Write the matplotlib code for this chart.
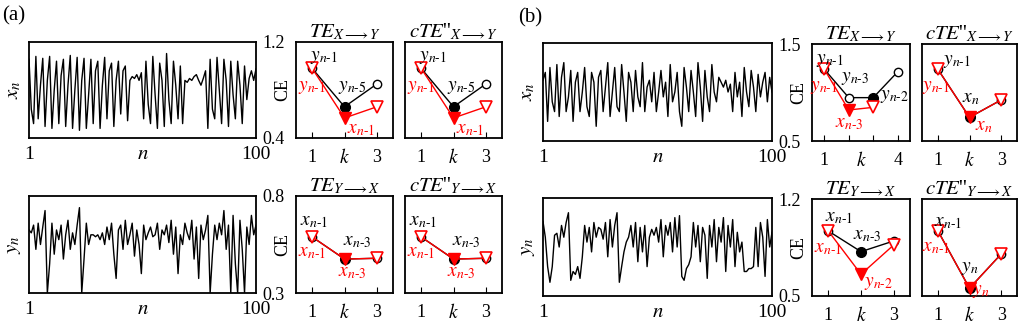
import matplotlib
matplotlib.use("Agg")
import matplotlib.pyplot as plt
import matplotlib.transforms as mtransforms

plt.rcParams['font.family'] = ['Liberation Serif', 'DejaVu Serif']
plt.rcParams['mathtext.fontset'] = 'stix'

# time series (a) and (b), 100 samples each, scaled 0..1 inside the box
n = list(range(1, 101))
xa = [0.82, 0.3, 0.15, 0.85, 0.2, 0.55, 0.83, 0.12, 0.6, 0.85, 0.1, 0.5, 0.8, 0.15, 0.65, 0.82, 0.12, 0.55, 0.86, 0.1,
      0.5, 0.84, 0.08, 0.6, 0.83, 0.1, 0.45, 0.82, 0.15, 0.7, 0.8, 0.1, 0.55, 0.84, 0.2, 0.7, 0.78, 0.12, 0.6, 0.8,
      0.25, 0.7, 0.75, 0.18, 0.6, 0.64, 0.62, 0.66, 0.6, 0.68, 0.2, 0.8, 0.35, 0.15, 0.85, 0.45, 0.1, 0.78, 0.6, 0.12,
      0.88, 0.4, 0.15, 0.8, 0.55, 0.2, 0.75, 0.15, 0.6, 0.58, 0.62, 0.6, 0.64, 0.66, 0.6, 0.55, 0.62, 0.7, 0.1, 0.82,
      0.3, 0.2, 0.84, 0.5, 0.15, 0.82, 0.6, 0.12, 0.8, 0.45, 0.2, 0.8, 0.55, 0.15, 0.75, 0.4, 0.62, 0.7, 0.6, 0.72]
ya = [0.65, 0.62, 0.7, 0.45, 0.72, 0.5, 0.68, 0.85, 0.0, 0.3, 0.72, 0.4, 0.65, 0.55, 0.7, 0.35, 0.6, 0.75, 0.45, 0.62,
      0.5, 0.7, 0.88, 0.0, 0.35, 0.72, 0.5, 0.6, 0.6, 0.58, 0.6, 0.55, 0.62, 0.5, 0.68, 0.55, 0.72, 0.4, 0.15, 0.65,
      0.7, 0.45, 0.75, 0.5, 0.6, 0.72, 0.38, 0.65, 0.5, 0.2, 0.7, 0.55, 0.62, 0.68, 0.58, 0.6, 0.72, 0.45, 0.65, 0.6,
      0.7, 0.52, 0.75, 0.4, 0.68, 0.2, 0.6, 0.5, 0.72, 0.62, 0.55, 0.75, 0.35, 0.68, 0.15, 0.7, 0.55, 0.65, 0.8, 0.0,
      0.4, 0.7, 0.55, 0.72, 0.6, 0.85, 0.45, 0.7, 0.0, 0.8, 0.3, 0.0, 0.75, 0.45, 0.0, 0.68, 0.5, 0.8, 0.6, 0.7]
xb = [0.62, 0.7, 0.2, 0.75, 0.4, 0.3, 0.78, 0.25, 0.65, 0.8, 0.3, 0.45, 0.72, 0.2, 0.6, 0.7, 0.3, 0.5, 0.75, 0.35,
      0.25, 0.7, 0.6, 0.15, 0.65, 0.72, 0.3, 0.55, 0.8, 0.25, 0.5, 0.75, 0.35, 0.3, 0.78, 0.5, 0.2, 0.7, 0.6, 0.3,
      0.72, 0.45, 0.35, 0.8, 0.3, 0.55, 0.62, 0.4, 0.7, 0.3, 0.5, 0.72, 0.45, 0.6, 0.25, 0.78, 0.4, 0.5, 0.7, 0.3,
      0.15, 0.75, 0.55, 0.3, 0.72, 0.5, 0.25, 0.8, 0.55, 0.2, 0.72, 0.45, 0.3, 0.78, 0.5, 0.4, 0.65, 0.6, 0.55, 0.62,
      0.5, 0.58, 0.3, 0.7, 0.45, 0.6, 0.25, 0.75, 0.5, 0.35, 0.72, 0.55, 0.3, 0.68, 0.45, 0.6, 0.7, 0.4, 0.65, 0.5]
yb = [0.76, 0.6, 0.3, 0.14, 0.3, 0.62, 0.64, 0.5, 0.72, 0.6, 0.75, 0.85, 0.16, 0.25, 0.22, 0.3, 0.18, 0.4, 0.72, 0.55,
      0.7, 0.45, 0.75, 0.6, 0.7, 0.68, 0.58, 0.75, 0.4, 0.78, 0.5, 0.72, 0.85, 0.14, 0.3, 0.45, 0.55, 0.6, 0.72, 0.5,
      0.75, 0.35, 0.7, 0.45, 0.72, 0.3, 0.6, 0.68, 0.62, 0.7, 0.55, 0.78, 0.4, 0.72, 0.62, 0.75, 0.45, 0.8, 0.5, 0.82,
      0.2, 0.16, 0.28, 0.32, 0.4, 0.75, 0.5, 0.72, 0.35, 0.7, 0.62, 0.18, 0.72, 0.5, 0.78, 0.35, 0.7, 0.55, 0.8, 0.25,
      0.72, 0.5, 0.78, 0.3, 0.65, 0.45, 0.55, 0.25, 0.25, 0.28, 0.28, 0.3, 0.7, 0.3, 0.75, 0.6, 0.2, 0.78, 0.5, 0.65]

# CE curves: black = TE / cTE'', red = other curve; filled marker at chosen k
a_xy_black = [0.98, 0.66, 0.85]
a_xy_red = [0.98, 0.567, 0.66]
a_yx_black = [0.589, 0.475, 0.479]
a_yx_red = [0.589, 0.475, 0.479]
b_te_xy_black = [1.24, 0.947, 0.947, 1.214]
b_te_xy_red = [1.24, 0.82, 0.847]
b_cte_xy_black = [1.24, 0.744, 0.923]
b_cte_xy_red = [1.24, 0.744, 0.923]
b_te_yx_black = [0.969, 0.82, 0.897]
b_te_yx_red = [0.969, 0.657, 0.868]
b_cte_yx_black = [0.971, 0.556, 0.803]
b_cte_yx_red = [0.971, 0.556, 0.803]

W, H = 1024, 328
fig = plt.figure(figsize=(W / 100, H / 100), dpi=100)


def box(x0, y0, x1, y1):
    return [x0 / W, 1 - y1 / H, (x1 - x0) / W, (y1 - y0) / H]


def series(rect, vals, ylab):
    ax = fig.add_axes(rect)
    ax.plot(n, vals, color='black', lw=1.0)
    ax.set_xlim(1, 100)
    ax.set_ylim(0, 1)
    ax.set_yticks([])
    ax.set_xticks([1, 100])
    ax.set_xticklabels(['1', '100'], fontsize=14)
    ax.tick_params(axis='x', length=0, pad=6)
    ax.text(0.5, -0.07, '$n$', transform=ax.transAxes, ha='center', va='top', fontsize=15)
    ax.set_ylabel(ylab, fontsize=15, labelpad=4)
    for s in ax.spines.values():
        s.set_linewidth(1.3)
    return ax


def ce_panel(rect, title, ylim, black, bfill, red, rfill, labels, show_y):
    ax = fig.add_axes(rect)
    kk = list(range(1, len(black) + 1))
    ax.plot(kk, black, color='black', lw=1.0, zorder=2)
    for i, v in enumerate(black):
        if i == bfill:
            ax.plot(kk[i], v, 'o', color='black', ms=7, zorder=3)
        else:
            ax.plot(kk[i], v, 'o', mfc='white', mec='black', ms=6, mew=1.0, zorder=3)
    kr = list(range(1, len(red) + 1))
    ax.plot(kr, red, color='red', lw=1.0, zorder=4)
    for i, v in enumerate(red):
        if i == rfill:
            ax.plot(kr[i], v, 'v', color='red', ms=8, zorder=5)
        else:
            ax.plot(kr[i], v, 'v', mfc='white', mec='red', ms=8, mew=1.2, zorder=5)
    nk = len(black)
    ax.set_xlim(0.5, nk + 0.5)
    ax.set_ylim(*ylim)
    ax.set_xticks(kk)
    ax.set_xticklabels(['1'] + [''] * (nk - 2) + [str(nk)], fontsize=13)
    ax.tick_params(axis='x', direction='in', length=4, pad=8)
    ax.set_yticks(ylim)
    if show_y:
        ax.set_yticklabels([f'{v:.1f}' for v in ylim], fontsize=13)
        ax.text(-0.14, 0.5, 'CE', transform=ax.transAxes, rotation=90,
                ha='center', va='center', fontsize=13)
    else:
        ax.set_yticklabels([])
    ax.tick_params(axis='y', length=0, pad=8)
    trans = mtransforms.blended_transform_factory(ax.transData, ax.transAxes)
    ax.text((nk + 1) / 2, -0.1, '$k$', transform=trans, ha='center', va='top', fontsize=14)
    ax.set_title(title, fontsize=15, pad=3)
    for x, y, t, c in labels:
        ax.text(x, y, t, color=c, ha='center', va='center', fontsize=14, zorder=6)
    for s in ax.spines.values():
        s.set_linewidth(1.3)
    return ax


te_xy = r'$TE_{X\longrightarrow Y}$'
cte_xy = r"$cTE$''$_{X\longrightarrow Y}$"
te_yx = r'$TE_{Y\longrightarrow X}$'
cte_yx = r"$cTE$''$_{Y\longrightarrow X}$"

yn1 = r'$y_{n\text{-}1}$'
yn2 = r'$y_{n\text{-}2}$'
yn3 = r'$y_{n\text{-}3}$'
yn5 = r'$y_{n\text{-}5}$'
xn1 = r'$x_{n\text{-}1}$'
xn3 = r'$x_{n\text{-}3}$'

lab_a_top = [(1.35, 1.07, yn1, 'black'), (2.25, 0.825, yn5, 'black'),
             (1.0, 0.82, yn1, 'red'), (2.5, 0.475, xn1, 'red')]
lab_a_bot = [(1.07, 0.666, xn1, 'black'), (2.4, 0.563, xn3, 'black'),
             (1.0, 0.51, xn1, 'red'), (2.25, 0.408, xn3, 'red')]

# panel (a)
series(box(29, 42, 256, 138), xa, '$x_n$')
series(box(29, 196, 256, 293), ya, '$y_n$')
ce_panel(box(296, 42, 393, 138), te_xy, (0.4, 1.2), a_xy_black, 1, a_xy_red, 1, lab_a_top, True)
ce_panel(box(405, 42, 502, 138), cte_xy, (0.4, 1.2), a_xy_black, 1, a_xy_red, 1, lab_a_top, False)
ce_panel(box(296, 196, 393, 293), te_yx, (0.3, 0.8), a_yx_black, 1, a_yx_red, 1, lab_a_bot, True)
ce_panel(box(405, 196, 502, 293), cte_yx, (0.3, 0.8), a_yx_black, 1, a_yx_red, 1, lab_a_bot, False)

# panel (b)
series(box(543, 43, 772, 141), xb, '$x_n$')
series(box(543, 198, 772, 296), yb, '$y_n$')
ce_panel(box(812, 44, 910, 141), te_xy, (0.5, 1.5), b_te_xy_black, 2, b_te_xy_red, 1,
         [(1.25, 1.335, yn1, 'black'), (2.25, 1.14, yn3, 'black'), (3.85, 0.96, yn2, 'black'),
          (1.0, 1.05, yn1, 'red'), (2.0, 0.68, xn3, 'red')], True)
ce_panel(box(922, 44, 1017, 141), cte_xy, (0.5, 1.5), b_cte_xy_black, 1, b_cte_xy_red, 1,
         [(1.6, 1.315, yn1, 'black'), (2.03, 0.94, '$x_n$', 'black'),
          (0.95, 1.05, yn1, 'red'), (2.45, 0.65, '$x_n$', 'red')], False)
ce_panel(box(812, 199, 910, 296), te_yx, (0.5, 1.2), b_te_yx_black, 1, b_te_yx_red, 1,
         [(1.33, 1.07, xn1, 'black'), (2.18, 0.94, xn3, 'black'),
          (1.0, 0.846, xn1, 'red'), (2.55, 0.587, yn2, 'red')], True)
ce_panel(box(922, 199, 1017, 296), cte_yx, (0.5, 1.2), b_cte_yx_black, 1, b_cte_yx_red, 1,
         [(1.33, 1.034, xn1, 'black'), (2.0, 0.70, '$y_n$', 'black'),
          (0.95, 0.853, xn1, 'red'), (2.35, 0.53, '$y_n$', 'red')], False)

fig.text(2 / W, 1 - 6 / H, '(a)', ha='left', va='top', fontsize=15)
fig.text(518 / W, 1 - 8 / H, '(b)', ha='left', va='top', fontsize=15)

fig.savefig('out.png', dpi=100)
